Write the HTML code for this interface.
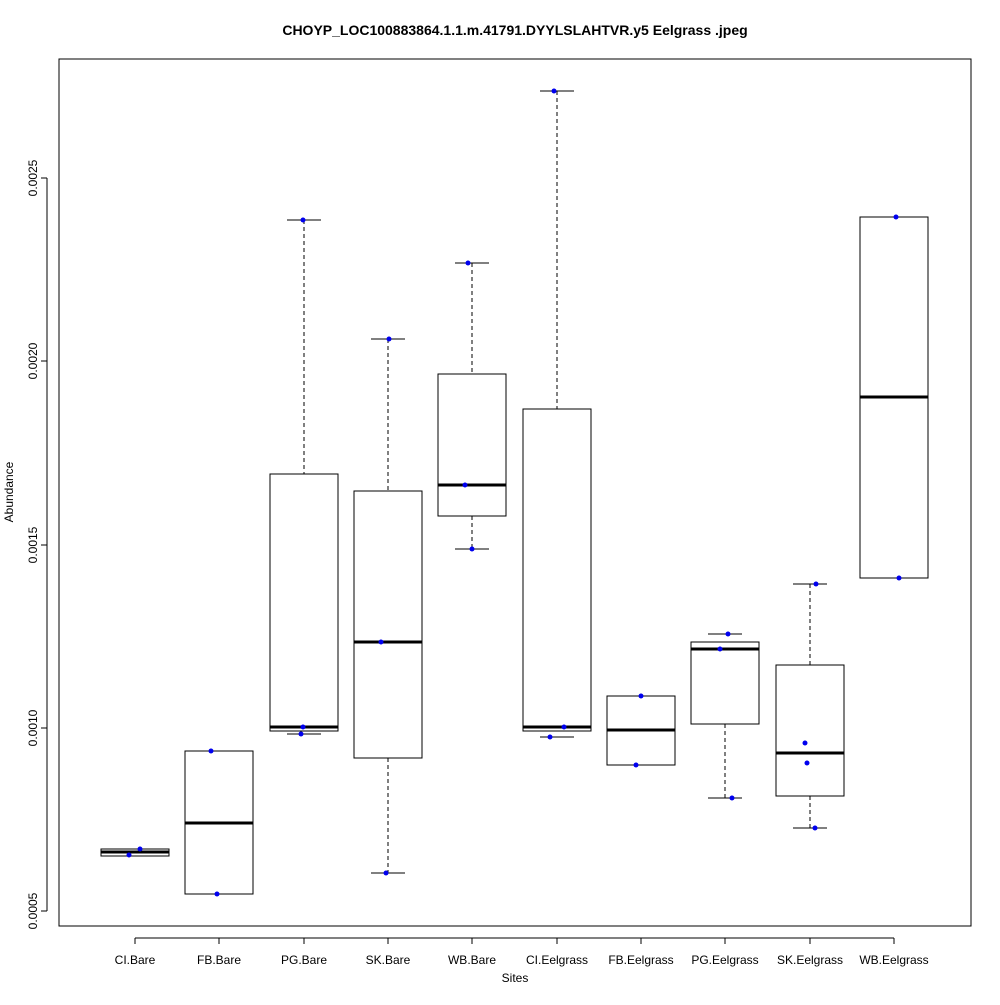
<!DOCTYPE html>
<html><head><style>body{margin:0;background:#fff}</style></head><body>
<svg width="1000" height="1000" xmlns="http://www.w3.org/2000/svg" font-family="Liberation Sans, sans-serif">
<rect width="1000" height="1000" fill="#fff"/>
<text x="515" y="35" text-anchor="middle" font-size="14" font-weight="bold">CHOYP_LOC100883864.1.1.m.41791.DYYLSLAHTVR.y5 Eelgrass .jpeg</text>
<rect x="59" y="59" width="912" height="867" fill="none" stroke="#000"/>
<g stroke="#000">
<line x1="47" y1="178" x2="47" y2="911"/>
<line x1="41" y1="911" x2="47" y2="911"/><line x1="41" y1="728" x2="47" y2="728"/><line x1="41" y1="545" x2="47" y2="545"/><line x1="41" y1="361" x2="47" y2="361"/><line x1="41" y1="178" x2="47" y2="178"/>
<line x1="135" y1="938" x2="894" y2="938"/>
<line x1="135" y1="938" x2="135" y2="944"/><line x1="219" y1="938" x2="219" y2="944"/><line x1="304" y1="938" x2="304" y2="944"/><line x1="388" y1="938" x2="388" y2="944"/><line x1="472" y1="938" x2="472" y2="944"/><line x1="557" y1="938" x2="557" y2="944"/><line x1="641" y1="938" x2="641" y2="944"/><line x1="725" y1="938" x2="725" y2="944"/><line x1="810" y1="938" x2="810" y2="944"/><line x1="894" y1="938" x2="894" y2="944"/>
</g>
<g font-size="12" text-anchor="middle">
<text transform="translate(41,911) rotate(-90)" y="-4">0.0005</text>
<text transform="translate(41,728) rotate(-90)" y="-4">0.0010</text>
<text transform="translate(41,545) rotate(-90)" y="-4">0.0015</text>
<text transform="translate(41,361) rotate(-90)" y="-4">0.0020</text>
<text transform="translate(41,178) rotate(-90)" y="-4">0.0025</text>
<text x="135" y="964">CI.Bare</text><text x="219" y="964">FB.Bare</text><text x="304" y="964">PG.Bare</text><text x="388" y="964">SK.Bare</text><text x="472" y="964">WB.Bare</text><text x="557" y="964">CI.Eelgrass</text><text x="641" y="964">FB.Eelgrass</text><text x="725" y="964">PG.Eelgrass</text><text x="810" y="964">SK.Eelgrass</text><text x="894" y="964">WB.Eelgrass</text>
<text x="515" y="982">Sites</text>
<text transform="translate(13,492) rotate(-90)">Abundance</text>
</g>
<g stroke="#000" fill="none">
<rect x="101" y="849" width="68" height="7"/><line x1="101" y1="852" x2="169" y2="852" stroke-width="3"/>
<rect x="185" y="751" width="68" height="143"/><line x1="185" y1="823" x2="253" y2="823" stroke-width="3"/>
<rect x="270" y="474" width="68" height="257"/><line x1="270" y1="727" x2="338" y2="727" stroke-width="3"/>
<line x1="304" y1="220" x2="304" y2="474" stroke-dasharray="4,3"/><line x1="287" y1="220" x2="321" y2="220"/><line x1="287" y1="734" x2="321" y2="734"/>
<rect x="354" y="491" width="68" height="267"/><line x1="354" y1="642" x2="422" y2="642" stroke-width="3"/>
<line x1="388" y1="339" x2="388" y2="491" stroke-dasharray="4,3"/><line x1="388" y1="758" x2="388" y2="873" stroke-dasharray="4,3"/><line x1="371" y1="339" x2="405" y2="339"/><line x1="371" y1="873" x2="405" y2="873"/>
<rect x="438" y="374" width="68" height="142"/><line x1="438" y1="485" x2="506" y2="485" stroke-width="3"/>
<line x1="472" y1="263" x2="472" y2="374" stroke-dasharray="4,3"/><line x1="472" y1="516" x2="472" y2="549" stroke-dasharray="4,3"/><line x1="455" y1="263" x2="489" y2="263"/><line x1="455" y1="549" x2="489" y2="549"/>
<rect x="523" y="409" width="68" height="322"/><line x1="523" y1="727" x2="591" y2="727" stroke-width="3"/>
<line x1="557" y1="91" x2="557" y2="409" stroke-dasharray="4,3"/><line x1="540" y1="91" x2="574" y2="91"/><line x1="540" y1="737" x2="574" y2="737"/>
<rect x="607" y="696" width="68" height="69"/><line x1="607" y1="730" x2="675" y2="730" stroke-width="3"/>
<rect x="691" y="642" width="68" height="82"/><line x1="691" y1="649" x2="759" y2="649" stroke-width="3"/>
<line x1="725" y1="724" x2="725" y2="798" stroke-dasharray="4,3"/><line x1="708" y1="634" x2="742" y2="634"/><line x1="708" y1="798" x2="742" y2="798"/>
<rect x="776" y="665" width="68" height="131"/><line x1="776" y1="753" x2="844" y2="753" stroke-width="3"/>
<line x1="810" y1="584" x2="810" y2="665" stroke-dasharray="4,3"/><line x1="810" y1="796" x2="810" y2="828" stroke-dasharray="4,3"/><line x1="793" y1="584" x2="827" y2="584"/><line x1="793" y1="828" x2="827" y2="828"/>
<rect x="860" y="217" width="68" height="361"/><line x1="860" y1="397" x2="928" y2="397" stroke-width="3"/>
</g>
<g fill="#0000ee">
<circle cx="140" cy="849" r="2.5"/><circle cx="129" cy="855" r="2.5"/>
<circle cx="211" cy="751" r="2.5"/><circle cx="217" cy="894" r="2.5"/>
<circle cx="303" cy="220" r="2.5"/><circle cx="303" cy="727" r="2.5"/><circle cx="301" cy="734" r="2.5"/>
<circle cx="389" cy="339" r="2.5"/><circle cx="381" cy="642" r="2.5"/><circle cx="386" cy="873" r="2.5"/>
<circle cx="468" cy="263" r="2.5"/><circle cx="465" cy="485" r="2.5"/><circle cx="472" cy="549" r="2.5"/>
<circle cx="554" cy="91" r="2.5"/><circle cx="564" cy="727" r="2.5"/><circle cx="550" cy="737" r="2.5"/>
<circle cx="641" cy="696" r="2.5"/><circle cx="636" cy="765" r="2.5"/>
<circle cx="728" cy="634" r="2.5"/><circle cx="720" cy="649" r="2.5"/><circle cx="732" cy="798" r="2.5"/>
<circle cx="816" cy="584" r="2.5"/><circle cx="805" cy="743" r="2.5"/><circle cx="807" cy="763" r="2.5"/><circle cx="815" cy="828" r="2.5"/>
<circle cx="896" cy="217" r="2.5"/><circle cx="899" cy="578" r="2.5"/>
</g>
</svg>
</body></html>
